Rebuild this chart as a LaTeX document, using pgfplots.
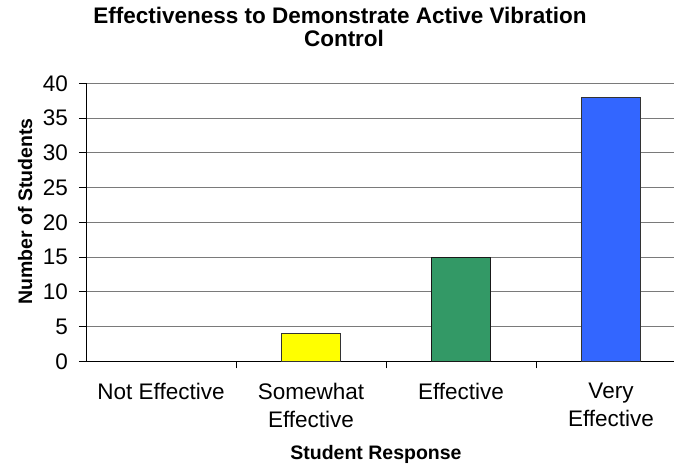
\documentclass[border=0pt]{standalone}
\usepackage{pgfplots}
\pgfplotsset{compat=1.18}
\usepackage{fontspec}
\setmainfont{Liberation Sans}
\definecolor{barYellow}{HTML}{FFFF00}
\definecolor{barGreen}{HTML}{339966}
\definecolor{barBlue}{HTML}{3366FF}
\definecolor{gridGray}{HTML}{7A7A7A}
\begin{document}
\begin{tikzpicture}[x=1pt,y=1pt]
\path[use as bounding box] (0,0) rectangle (674,465);
\begin{axis}[
  at={(86pt,103.5pt)}, anchor=south west,
  scale only axis, width=588pt, height=278.2pt,
  xmin=-0.5, xmax=3.42, ymin=0, ymax=40,
  axis lines*=left,
  axis line style={black, line width=1pt},
  ytick={0,5,...,40},
  ymajorgrids, grid style={gridGray, line width=1pt},
  % separators between the categories
  xtick={0.5,1.5,2.5},
  xticklabels={},
  % category names, centred under the bars
  extra x ticks={0,1,2,3},
  extra x tick labels={Not Effective, Somewhat\\Effective, Effective, Very\\Effective},
  extra x tick style={major tick length=0pt, grid=none},
  tick style={black, line width=1pt},
  major tick length=7pt, tick align=outside,
  /pgf/number format/assume math mode=true,
  yticklabel style={font=\fontsize{22.5}{25}\selectfont, anchor=east, xshift=-7.5pt},
  xticklabel style={font=\fontsize{22.5}{28}\selectfont, align=center, anchor=north, yshift=-18pt},
  ybar, bar width=59pt, bar shift=0pt,
  clip=false,
]
\addplot[draw=none, fill=none] coordinates {(0,0)};
\addplot[fill=barYellow, draw=black!80, line width=1pt] coordinates {(1,4)};
\addplot[fill=barGreen, draw=black!90, line width=1pt] coordinates {(2,15)};
\addplot[fill=barBlue, draw=black!80, line width=1pt] coordinates {(3,38)};
\end{axis}
% title and axis titles
\node[anchor=base, font=\fontsize{22.5}{26}\selectfont\bfseries] at (340,441) {Effectiveness to Demonstrate Active Vibration};
\node[anchor=base, font=\fontsize{22.5}{26}\selectfont\bfseries] at (344,418) {Control};
\node[anchor=base, rotate=90, font=\fontsize{19.5}{22}\selectfont\bfseries] at (32,253.5) {Number of Students};
\node[anchor=base, font=\fontsize{19.5}{22}\selectfont\bfseries] at (376,5) {Student Response};
\end{tikzpicture}
\end{document}
